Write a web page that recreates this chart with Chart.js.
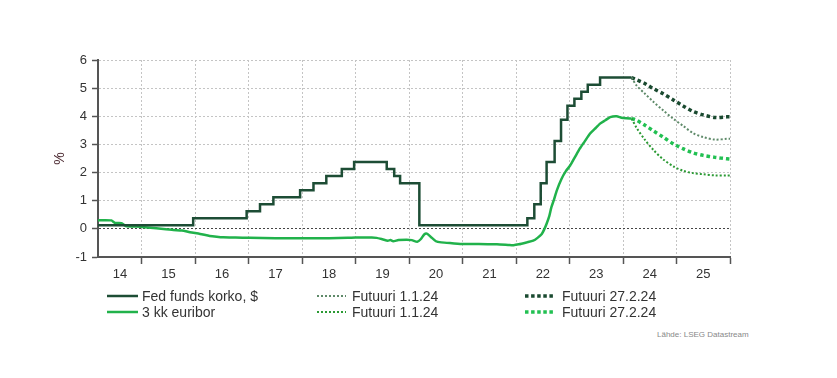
<!DOCTYPE html>
<html>
<head>
<meta charset="utf-8">
<script src="https://cdn.jsdelivr.net/npm/chart.js@4/dist/chart.umd.min.js"></script>
<style>
  html, body { margin: 0; padding: 0; background: #fff; }
  body { width: 837px; height: 378px; position: relative; overflow: hidden; font-family: "Liberation Sans", Arial, sans-serif; }
  #wrap { position: absolute; left: 0; top: 0; width: 837px; height: 290px; }
  .leg { position: absolute; font-size: 14px; color: #333; line-height: 16px; white-space: nowrap; }
  .leg svg { position: absolute; left: 0; top: 0; }
  .leg span { position: absolute; top: 0; }
  #src { position: absolute; left: 657px; top: 330px; font-size: 8px; color: #888; white-space: nowrap; }
</style>
</head>
<body>
<div id="wrap"><canvas id="c" width="837" height="290"></canvas></div>

<div class="leg" style="left:107px;top:288px;width:200px;height:16px;">
  <svg width="32" height="16"><line x1="0" y1="8" x2="31" y2="8" stroke="#1d4d35" stroke-width="2.5"/></svg>
  <span style="left:35px;">Fed funds korko, $</span>
</div>
<div class="leg" style="left:107px;top:304px;width:200px;height:16px;">
  <svg width="32" height="16"><line x1="0" y1="8" x2="31" y2="8" stroke="#21b24b" stroke-width="2.5"/></svg>
  <span style="left:35px;">3 kk euribor</span>
</div>
<div class="leg" style="left:317px;top:288px;width:200px;height:16px;">
  <svg width="30" height="16"><line x1="0" y1="8" x2="29" y2="8" stroke="#5e8a69" stroke-width="2" stroke-dasharray="2,2"/></svg>
  <span style="left:35px;">Futuuri 1.1.24</span>
</div>
<div class="leg" style="left:317px;top:304px;width:200px;height:16px;">
  <svg width="30" height="16"><line x1="0" y1="8" x2="29" y2="8" stroke="#2b9a34" stroke-width="2" stroke-dasharray="2,2"/></svg>
  <span style="left:35px;">Futuuri 1.1.24</span>
</div>
<div class="leg" style="left:525px;top:288px;width:220px;height:16px;">
  <svg width="30" height="16"><line x1="0" y1="8" x2="29" y2="8" stroke="#1a4a30" stroke-width="3.5" stroke-dasharray="3.5,2.6"/></svg>
  <span style="left:37px;">Futuuri 27.2.24</span>
</div>
<div class="leg" style="left:525px;top:304px;width:220px;height:16px;">
  <svg width="30" height="16"><line x1="0" y1="8" x2="29" y2="8" stroke="#22c052" stroke-width="3.5" stroke-dasharray="3.5,2.6"/></svg>
  <span style="left:37px;">Futuuri 27.2.24</span>
</div>
<div id="src">Lähde: LSEG Datastream</div>

<script>
// ---- Data (x = year as decimal) ----
const yearLabels = ['14','15','16','17','18','19','20','21','22','23','24','25'];
const yTicks = [-1, 0, 1, 2, 3, 4, 5, 6];

const fedDates  = [2014.18, 2015.96, 2016.96, 2017.21, 2017.46, 2017.96, 2018.21, 2018.45, 2018.74, 2018.97, 2019.58, 2019.72, 2019.83, 2020.19, 2022.21, 2022.34, 2022.46, 2022.57, 2022.72, 2022.84, 2022.96, 2023.09, 2023.22, 2023.34, 2023.57, 2024.16];
const fedValues = [0.125, 0.375, 0.625, 0.875, 1.125, 1.375, 1.625, 1.875, 2.125, 2.375, 2.125, 1.875, 1.625, 0.125, 0.375, 0.875, 1.625, 2.375, 3.125, 3.875, 4.375, 4.625, 4.875, 5.125, 5.375, 5.375];

const euriborDates  = [2014.18, 2014.30, 2014.43, 2014.50, 2014.62, 2014.70, 2014.90, 2015.05, 2015.27, 2015.45, 2015.59, 2015.75, 2015.90, 2016.09, 2016.27, 2016.40, 2016.52, 2016.75, 2017.02, 2017.50, 2018.00, 2018.50, 2018.85, 2019.00, 2019.30, 2019.39, 2019.50, 2019.60, 2019.65, 2019.70, 2019.80, 2019.95, 2020.05, 2020.15, 2020.22, 2020.28, 2020.33, 2020.40, 2020.50, 2020.60, 2020.80, 2021.02, 2021.30, 2021.64, 2021.85, 2021.95, 2022.05, 2022.20, 2022.32, 2022.40, 2022.48, 2022.53, 2022.57, 2022.62, 2022.66, 2022.71, 2022.76, 2022.85, 2022.93, 2023.01, 2023.10, 2023.19, 2023.28, 2023.38, 2023.47, 2023.57, 2023.67, 2023.76, 2023.88, 2023.97, 2024.06, 2024.16];
const euriborValues = [0.30, 0.31, 0.30, 0.21, 0.20, 0.10, 0.08, 0.06, 0.02, -0.01, -0.04, -0.06, -0.12, -0.18, -0.25, -0.28, -0.30, -0.31, -0.32, -0.33, -0.33, -0.33, -0.32, -0.31, -0.31, -0.32, -0.37, -0.42, -0.40, -0.44, -0.40, -0.39, -0.40, -0.46, -0.36, -0.20, -0.17, -0.28, -0.44, -0.48, -0.51, -0.54, -0.54, -0.55, -0.57, -0.58, -0.55, -0.48, -0.42, -0.32, -0.18, 0.00, 0.18, 0.45, 0.77, 1.05, 1.36, 1.78, 2.05, 2.25, 2.55, 2.85, 3.10, 3.38, 3.55, 3.74, 3.86, 3.97, 4.00, 3.95, 3.93, 3.92];

const futDates = [2024.16, 2024.25, 2024.41, 2024.57, 2024.75, 2024.94, 2025.13, 2025.31, 2025.50, 2025.72, 2025.94, 2026.00];
const fedFut0101   = [5.375, 5.10, 4.80, 4.51, 4.21, 3.91, 3.65, 3.40, 3.26, 3.17, 3.20, 3.20];
const fedFut2702   = [5.375, 5.30, 5.16, 4.98, 4.80, 4.58, 4.36, 4.17, 4.05, 3.96, 3.98, 3.98];
const eurFut0101   = [3.92, 3.60, 3.16, 2.80, 2.47, 2.22, 2.06, 1.98, 1.94, 1.90, 1.90, 1.90];
const eurFut2702   = [3.92, 3.86, 3.68, 3.48, 3.26, 3.02, 2.84, 2.70, 2.61, 2.54, 2.49, 2.48];

const xMin = 2014.18, xMax = 2026;

const pts = (xs, ys) => xs.map((x, i) => ({ x: x, y: ys[i] }));
const labelPositions = yearLabels.map((l, i) => i === 0 ? (xMin + 2015) / 2 : 2014.5 + i);

const isInt = v => Math.abs(v - Math.round(v)) < 1e-6;

new Chart(document.getElementById('c'), {
  type: 'line',
  data: {
    datasets: [
      { label: 'Futuuri 1.1.24 fed', data: pts(futDates, fedFut0101), borderColor: '#5e8a69', borderWidth: 2, borderDash: [2, 2], tension: 0.3, pointRadius: 0, order: 3 },
      { label: 'Futuuri 27.2.24 fed', data: pts(futDates, fedFut2702), borderColor: '#1a4a30', borderWidth: 3.5, borderDash: [3.5, 3], tension: 0.3, pointRadius: 0, order: 3 },
      { label: 'Futuuri 1.1.24 eur', data: pts(futDates, eurFut0101), borderColor: '#2b9a34', borderWidth: 2, borderDash: [2, 2], tension: 0.3, pointRadius: 0, order: 3 },
      { label: 'Futuuri 27.2.24 eur', data: pts(futDates, eurFut2702), borderColor: '#22c052', borderWidth: 3.5, borderDash: [3.5, 3], tension: 0.3, pointRadius: 0, order: 3 },
      { label: '3 kk euribor', data: pts(euriborDates, euriborValues), borderColor: '#21b24b', borderWidth: 2.5, tension: 0.2, pointRadius: 0, order: 2 },
      { label: 'Fed funds korko, $', data: pts(fedDates, fedValues), borderColor: '#1d4d35', borderWidth: 2.5, stepped: 'before', pointRadius: 0, order: 1 }
    ]
  },
  options: {
    responsive: false,
    animation: false,
    devicePixelRatio: 1,
    layout: { padding: { left: 40, right: 107, top: 60, bottom: 0 } },
    plugins: { legend: { display: false }, tooltip: { enabled: false } },
    scales: {
      x: {
        type: 'linear',
        min: xMin, max: xMax,
        afterBuildTicks: (scale) => {
          const t = [];
          for (let y = 2015; y <= 2026; y++) t.push({ value: y });
          labelPositions.forEach(v => t.push({ value: v }));
          scale.ticks = t;
        },
        afterFit: (scale) => { scale.height = 33; },
        ticks: {
          autoSkip: false, maxRotation: 0, padding: 3,
          color: '#333', font: { family: '"Liberation Sans", Arial, sans-serif', size: 13 },
          callback: (v) => {
            if (isInt(v)) return '';
            const idx = labelPositions.findIndex(p => Math.abs(p - v) < 1e-6);
            return idx >= 0 ? yearLabels[idx] : '';
          }
        },
        grid: {
          color: (ctx) => (ctx.tick && isInt(ctx.tick.value)) ? '#c4c4c4' : 'rgba(0,0,0,0)',
          tickColor: (ctx) => (ctx.tick && isInt(ctx.tick.value)) ? '#555' : 'rgba(0,0,0,0)',
          lineWidth: 1, tickWidth: 1.5, tickLength: 7,
          tickBorderDash: [0, 0]
        },
        border: { display: true, color: '#555', width: 2, dash: [2, 2] }
      },
      y: {
        min: -1, max: 6,
        afterBuildTicks: (scale) => { scale.ticks = yTicks.map(v => ({ value: v })); },
        afterFit: (scale) => { scale.width = 58; },
        ticks: { color: '#333', padding: 5, font: { family: '"Liberation Sans", Arial, sans-serif', size: 13 } },
        title: { display: true, text: '%', color: '#4d2b33', padding: { top: 12, bottom: 0 }, font: { family: '"Liberation Sans", Arial, sans-serif', size: 14 } },
        grid: {
          color: (ctx) => (ctx.tick && ctx.tick.value === 0) ? '#444' : '#c4c4c4',
          tickColor: '#555', tickWidth: 1.5, tickLength: 6,
          lineWidth: 1, tickBorderDash: [0, 0]
        },
        border: { display: true, color: '#555', width: 2, dash: [2, 2] }
      }
    }
  }
});
</script>
</body>
</html>
